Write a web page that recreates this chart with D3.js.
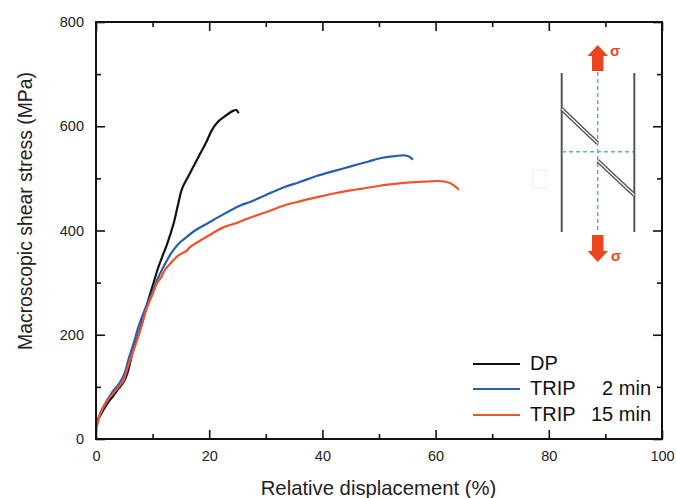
<!DOCTYPE html>
<html>
<head>
<meta charset="utf-8">
<script src="https://cdn.jsdelivr.net/npm/d3@7/dist/d3.min.js"></script>
<style>
  html, body { margin: 0; padding: 0; background: #fff; }
  svg { display: block; font-family: "Liberation Sans", Arial, sans-serif; }
</style>
</head>
<body>
<svg id="chart" width="677" height="498"></svg>
<script>
// ---- Data ----
const xTicks = [0, 20, 40, 60, 80, 100];
const yTicks = [0, 200, 400, 600, 800];
const legendNames = ["DP", "TRIP", "TRIP"];
const legendSuffix = ["", "2 min", "15 min"];
const seriesColors = ["#111111", "#2a5db0", "#f0522a"];

const dpData = [
  [0, 28], [0.5, 40], [1, 50], [2, 68], [3, 82], [4, 97], [4.8, 108], [5.5, 125],
  [6, 145], [6.5, 168], [7.5, 200], [8.4, 233], [9.2, 265], [10.1, 297], [11, 329],
  [11.9, 355], [12.5, 372], [13.7, 413], [14.5, 450], [15.2, 480], [16.5, 508],
  [18.1, 541], [19.5, 570], [20.5, 593], [21.5, 608], [22.5, 617], [23.5, 625],
  [24.3, 630], [24.8, 631], [25.2, 625]
];
const trip2Data = [
  [0, 25], [0.5, 42], [1, 55], [2, 75], [3, 92], [4, 105], [5, 125], [5.8, 155],
  [6.6, 182], [7.5, 215], [8.5, 245], [9.8, 278], [11, 310], [12.5, 342], [13.5, 360],
  [14.9, 378], [15.5, 383], [17.5, 400], [19.6, 413], [22, 428], [25.5, 448],
  [27.3, 455], [30, 468], [33.2, 483], [36, 493], [39.1, 505], [42, 514], [45, 523],
  [48, 532], [50.8, 540], [53, 543], [54.4, 544], [55.3, 542], [56, 536]
];
const trip15Data = [
  [0, 15], [0.3, 30], [0.7, 47], [1.5, 65], [2.3, 78], [3.1, 88], [4, 100], [4.8, 111],
  [5.4, 130], [6, 150], [7.2, 188], [8, 215], [9, 252], [10, 278], [10.7, 297],
  [11.5, 310], [12.2, 325], [13.1, 336], [14.5, 352], [16, 361], [16.6, 368], [18, 378],
  [20, 391], [22.5, 406], [25, 415], [27.3, 425], [30, 435], [33.2, 448], [36, 456],
  [39.1, 464], [42, 471], [45, 477], [48, 482], [50.8, 487], [54, 491], [56.7, 493],
  [58.5, 494], [60.3, 495], [61.5, 494], [62.7, 490], [63.5, 484], [64.1, 478]
];
const allSeries = [dpData, trip2Data, trip15Data];

// ---- Layout ----
const svg = d3.select("#chart");
const margin = { left: 96, right: 15, top: 22, bottom: 59 };
const W = 677, H = 498;
const x = d3.scaleLinear().domain([0, 100]).range([margin.left, W - margin.right]);
const y = d3.scaleLinear().domain([0, 800]).range([H - margin.bottom, margin.top]);

const majorLen = 9, minorLen = 5;

// curves
const line = d3.line().x(d => x(d[0])).y(d => y(d[1])).curve(d3.curveCatmullRom);
allSeries.forEach((s, i) => {
  svg.append("path").datum(s)
    .attr("d", line)
    .attr("fill", "none")
    .attr("stroke", seriesColors[i])
    .attr("stroke-width", 2.2)
    .attr("stroke-linejoin", "round");
});

// axes: bottom
const gx = svg.append("g").attr("transform", `translate(0,${y(0)})`)
  .call(d3.axisBottom(x).tickValues(xTicks).tickSize(-majorLen).tickPadding(12).tickFormat(d3.format("d")));
const gxMinor = svg.append("g").attr("transform", `translate(0,${y(0)})`)
  .call(d3.axisBottom(x).tickValues(d3.range(10, 100, 20)).tickSize(-minorLen).tickFormat(""));
// left
const gy = svg.append("g").attr("transform", `translate(${x(0)},0)`)
  .call(d3.axisLeft(y).tickValues(yTicks).tickSize(-majorLen).tickPadding(12).tickFormat(d3.format("d")));
const gyMinor = svg.append("g").attr("transform", `translate(${x(0)},0)`)
  .call(d3.axisLeft(y).tickValues(d3.range(100, 800, 200)).tickSize(-minorLen).tickFormat(""));
// right ticks
const gr = svg.append("g").attr("transform", `translate(${x(100)},0)`)
  .call(d3.axisRight(y).tickValues(yTicks).tickSize(-majorLen).tickFormat(""));
const grMinor = svg.append("g").attr("transform", `translate(${x(100)},0)`)
  .call(d3.axisRight(y).tickValues(d3.range(100, 800, 200)).tickSize(-minorLen).tickFormat(""));
// top ticks
const gt = svg.append("g").attr("transform", `translate(0,${y(800)})`)
  .call(d3.axisTop(x).tickValues(xTicks).tickSize(-majorLen).tickFormat(""));
const gtMinor = svg.append("g").attr("transform", `translate(0,${y(800)})`)
  .call(d3.axisTop(x).tickValues(d3.range(10, 100, 20)).tickSize(-minorLen).tickFormat(""));

[gx, gxMinor, gy, gyMinor, gr, grMinor, gt, gtMinor].forEach(g => {
  g.select(".domain").remove();
  g.selectAll(".tick line").attr("stroke", "#111").attr("stroke-width", 1.6);
  g.selectAll(".tick text").attr("fill", "#222").style("font-size", "14.5px")
    .style("font-family", "'Liberation Sans', Arial, sans-serif");
});

// frame
svg.append("rect")
  .attr("x", x(0)).attr("y", y(800))
  .attr("width", x(100) - x(0)).attr("height", y(0) - y(800))
  .attr("fill", "none").attr("stroke", "#111").attr("stroke-width", 2);

// axis titles
svg.append("text")
  .attr("x", 378.5).attr("y", 495)
  .attr("text-anchor", "middle").attr("fill", "#222")
  .style("font-size", "20.3px")
  .text("Relative displacement (%)");
svg.append("text")
  .attr("transform", `translate(32,211) rotate(-90)`)
  .attr("text-anchor", "middle").attr("fill", "#222")
  .style("font-size", "19.4px")
  .text("Macroscopic shear stress (MPa)");

// legend
const legend = svg.append("g");
const legendY = [364, 389, 415];
legendNames.forEach((name, i) => {
  legend.append("line")
    .attr("x1", 473).attr("x2", 520)
    .attr("y1", legendY[i]).attr("y2", legendY[i])
    .attr("stroke", seriesColors[i]).attr("stroke-width", 2);
  legend.append("text")
    .attr("x", 530).attr("y", legendY[i] + 6)
    .attr("fill", "#111").style("font-size", "20px")
    .text(name);
  if (legendSuffix[i]) {
    legend.append("text")
      .attr("x", 651).attr("y", legendY[i] + 6)
      .attr("text-anchor", "end")
      .attr("fill", "#111").style("font-size", "20px")
      .text(legendSuffix[i]);
  }
});

// inset schematic
const inset = svg.append("g");
const ic = "#e8461e";
inset.append("rect").attr("x", 533).attr("y", 170).attr("width", 13).attr("height", 18)
  .attr("fill", "none").attr("stroke", "#eeeeee").attr("stroke-width", 1);
[561.7, 634.3].forEach(xx => {
  inset.append("line").attr("x1", xx).attr("x2", xx).attr("y1", 73).attr("y2", 232)
    .attr("stroke", "#555").attr("stroke-width", 2);
});
inset.append("line").attr("x1", 597.7).attr("x2", 597.7).attr("y1", 72).attr("y2", 232)
  .attr("stroke", "#6aa3d6").attr("stroke-width", 1.5).attr("stroke-dasharray", "4,3");
inset.append("line").attr("x1", 562).attr("x2", 634).attr("y1", 151.7).attr("y2", 151.7)
  .attr("stroke", "#6aa3d6").attr("stroke-width", 1.5).attr("stroke-dasharray", "4,3");
[[561.7, 109, 597.7, 143.3], [597.7, 160.7, 634.3, 195]].forEach(s => {
  inset.append("line").attr("x1", s[0]).attr("y1", s[1]).attr("x2", s[2]).attr("y2", s[3])
    .attr("stroke", "#555").attr("stroke-width", 4);
  inset.append("line").attr("x1", s[0]).attr("y1", s[1]).attr("x2", s[2]).attr("y2", s[3])
    .attr("stroke", "#fff").attr("stroke-width", 1.2);
});
// arrows
inset.append("path")
  .attr("d", "M597.7,45 L608,56 L603.5,56 L603.5,71 L592,71 L592,56 L587.5,56 Z")
  .attr("fill", ic);
inset.append("path")
  .attr("d", "M597.7,262 L608,251 L603.5,251 L603.5,235 L592,235 L592,251 L587.5,251 Z")
  .attr("fill", ic);
inset.append("text").attr("x", 610).attr("y", 56).attr("fill", ic)
  .style("font-size", "15px").style("font-weight", "bold").text("σ");
inset.append("text").attr("x", 611).attr("y", 261).attr("fill", ic)
  .style("font-size", "15px").style("font-weight", "bold").text("σ");
</script>
</body>
</html>
